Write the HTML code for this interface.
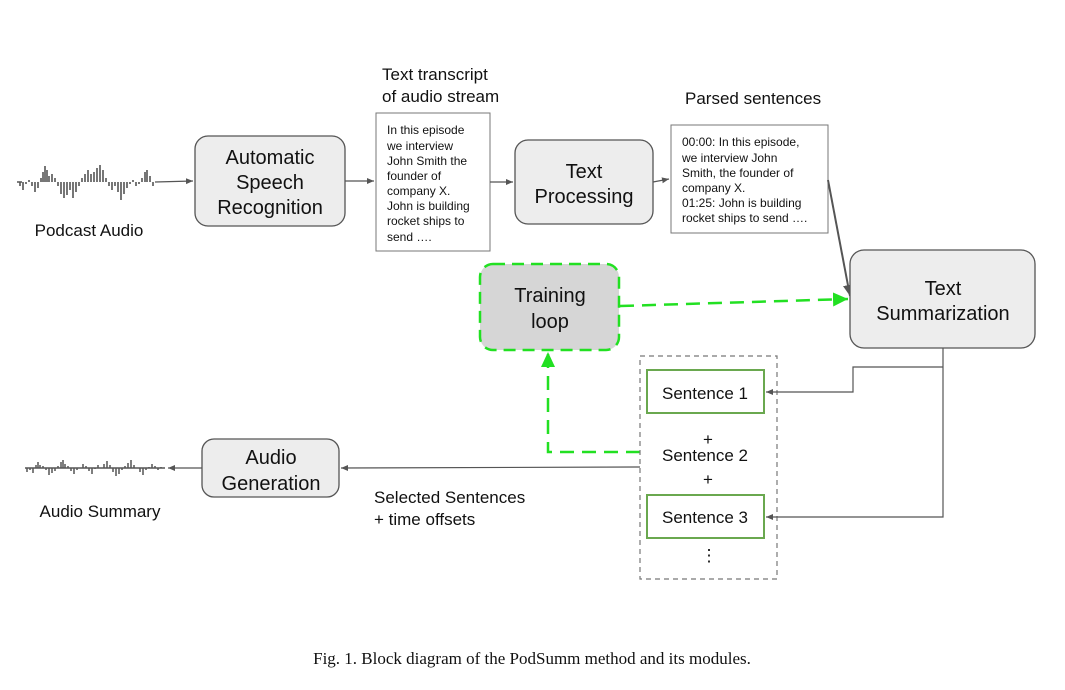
<!DOCTYPE html>
<html><head><meta charset="utf-8"><style>
html,body{margin:0;padding:0;background:#fff;}
svg{display:block;}
text{font-family:"Liberation Sans",Arial,sans-serif;fill:#111;}
</style></head><body>
<svg width="1065" height="690" viewBox="0 0 1065 690" xmlns="http://www.w3.org/2000/svg">
<defs>
<marker id="a" markerWidth="8" markerHeight="8" refX="7" refY="4" orient="auto" markerUnits="userSpaceOnUse"><path d="M0,1 L7,4 L0,7 z" fill="#555"/></marker>
<marker id="g" markerWidth="16" markerHeight="14" refX="15" refY="7" orient="auto" markerUnits="userSpaceOnUse"><path d="M0,0 L15,7 L0,14 z" fill="#22e022"/></marker>
<marker id="b" markerWidth="12" markerHeight="12" refX="11" refY="6" orient="auto" markerUnits="userSpaceOnUse"><path d="M0,1 L11,6 L0,11 z" fill="#555"/></marker>
</defs>

<!-- podcast waveform -->
<g stroke="#555" stroke-width="1.6">
<path d="M17 182H22 M20 182V186 M23 182V190 M26 182V184 M29 182V180 M32 182V186 M35 182V192 M38 182V188 M41 182V178 M43 182V172 M45 182V166 M47 182V170 M49 182V176 M52 182V174 M55 182V178 M58 182V186 M61 182V194 M64 182V198 M67 182V195 M70 182V190 M73 182V198 M76 182V192 M79 182V186 M82 182V178 M85 182V174 M88 182V170 M91 182V174 M94 182V172 M97 182V168 M100 182V165 M103 182V170 M106 182V178 M109 182V186 M112 182V190 M115 182V186 M118 182V192 M121 182V200 M124 182V194 M127 182V188 M130 182V184 M133 182V180 M136 182V186 M139 182V184 M142 182V178 M145 182V172 M147 182V170 M150 182V176 M153 182V186"/>
</g>
<line x1="155" y1="182" x2="193" y2="181" stroke="#555" stroke-width="1.2" marker-end="url(#a)"/>
<text x="89" y="236" font-size="17" text-anchor="middle">Podcast Audio</text>

<!-- ASR -->
<rect x="195" y="136" width="150" height="90" rx="13" fill="#ededed" stroke="#555" stroke-width="1.3"/>
<text font-size="20" text-anchor="middle"><tspan x="270" y="164">Automatic</tspan><tspan x="270" y="189">Speech</tspan><tspan x="270" y="214">Recognition</tspan></text>
<line x1="345" y1="181" x2="374" y2="181" stroke="#555" stroke-width="1.2" marker-end="url(#a)"/>

<!-- transcript -->
<text font-size="17"><tspan x="382" y="80">Text transcript</tspan><tspan x="382" y="102">of audio stream</tspan></text>
<rect x="376" y="113" width="114" height="138" fill="#fff" stroke="#777" stroke-width="1"/>
<text font-size="12"><tspan x="387" y="134">In this episode</tspan><tspan x="387" y="150">we interview</tspan><tspan x="387" y="165">John Smith the</tspan><tspan x="387" y="180">founder of</tspan><tspan x="387" y="195">company X.</tspan><tspan x="387" y="210">John is building</tspan><tspan x="387" y="225">rocket ships to</tspan><tspan x="387" y="241">send ….</tspan></text>
<line x1="490" y1="182" x2="513" y2="182" stroke="#555" stroke-width="1.2" marker-end="url(#a)"/>

<!-- text processing -->
<rect x="515" y="140" width="138" height="84" rx="13" fill="#ededed" stroke="#555" stroke-width="1.3"/>
<text font-size="20" text-anchor="middle"><tspan x="584" y="178">Text</tspan><tspan x="584" y="203">Processing</tspan></text>
<line x1="653" y1="182" x2="669" y2="179" stroke="#555" stroke-width="1.2" marker-end="url(#a)"/>

<!-- parsed -->
<text x="685" y="104" font-size="17">Parsed sentences</text>
<rect x="671" y="125" width="157" height="108" fill="#fff" stroke="#777" stroke-width="1"/>
<text font-size="12"><tspan x="682" y="146">00:00: In this episode,</tspan><tspan x="682" y="162">we interview John</tspan><tspan x="682" y="177">Smith, the founder of</tspan><tspan x="682" y="192">company X.</tspan><tspan x="682" y="207">01:25: John is building</tspan><tspan x="682" y="222">rocket ships to send ….</tspan></text>
<line x1="828" y1="180" x2="850" y2="296" stroke="#555" stroke-width="2" marker-end="url(#b)"/>

<!-- text summarization -->
<rect x="850" y="250" width="185" height="98" rx="14" fill="#ededed" stroke="#555" stroke-width="1.3"/>
<text font-size="20" text-anchor="middle"><tspan x="943" y="295">Text</tspan><tspan x="943" y="320">Summarization</tspan></text>

<!-- training loop -->
<rect x="480" y="264" width="139" height="86" rx="13" fill="#d6d6d6" stroke="#22e022" stroke-width="2.5" stroke-dasharray="12,7"/>
<text font-size="20" text-anchor="middle"><tspan x="550" y="302">Training</tspan><tspan x="550" y="328">loop</tspan></text>
<line x1="620" y1="306" x2="848" y2="299" stroke="#22e022" stroke-width="2.5" stroke-dasharray="14,8" marker-end="url(#g)"/>
<polyline points="640,452 548,452 548,352" fill="none" stroke="#22e022" stroke-width="2.5" stroke-dasharray="14,8" marker-end="url(#g)"/>

<!-- container -->
<rect x="640" y="356" width="137" height="223" fill="none" stroke="#777" stroke-width="1.2" stroke-dasharray="5,4"/>
<rect x="647" y="370" width="117" height="43" fill="#fff" stroke="#6aa84f" stroke-width="2"/>
<text x="705" y="399" font-size="17" text-anchor="middle">Sentence 1</text>
<text x="708" y="445" font-size="17" text-anchor="middle">+</text>
<text x="705" y="461" font-size="17" text-anchor="middle">Sentence 2</text>
<text x="708" y="485" font-size="17" text-anchor="middle">+</text>
<rect x="647" y="495" width="117" height="43" fill="#fff" stroke="#6aa84f" stroke-width="2"/>
<text x="705" y="523" font-size="17" text-anchor="middle">Sentence 3</text>
<text x="709" y="561" font-size="17" text-anchor="middle">⋮</text>

<polyline points="943,348 943,517 766,517" fill="none" stroke="#555" stroke-width="1.2" marker-end="url(#a)"/>
<polyline points="943,367 853,367 853,392 766,392" fill="none" stroke="#555" stroke-width="1.2" marker-end="url(#a)"/>

<!-- audio gen -->
<line x1="640" y1="467" x2="341" y2="468" stroke="#555" stroke-width="1.2" marker-end="url(#a)"/>
<rect x="202" y="439" width="137" height="58" rx="12" fill="#ededed" stroke="#555" stroke-width="1.3"/>
<text font-size="20" text-anchor="middle"><tspan x="271" y="464">Audio</tspan><tspan x="271" y="490">Generation</tspan></text>
<text font-size="17"><tspan x="374" y="503">Selected Sentences</tspan><tspan x="374" y="525">+ time offsets</tspan></text>
<line x1="202" y1="468" x2="168" y2="468" stroke="#555" stroke-width="1.2" marker-end="url(#a)"/>

<g stroke="#555" stroke-width="1.5">
<path d="M25 468H165 M27 468V472 M30 468V470 M33 468V473 M36 468V465 M38 468V462 M40 468V465 M43 468V466 M46 468V470 M49 468V475 M52 468V473 M55 468V471 M58 468V466 M61 468V462 M63 468V460 M65 468V464 M68 468V466 M71 468V471 M74 468V474 M77 468V470 M80 468V468 M83 468V464 M86 468V466 M89 468V471 M92 468V474 M95 468V469 M98 468V465 M101 468V468 M104 468V464 M107 468V461 M110 468V465 M113 468V472 M116 468V476 M119 468V474 M122 468V470 M125 468V466 M128 468V463 M131 468V460 M134 468V465 M137 468V468 M140 468V472 M143 468V475 M146 468V470 M149 468V467 M152 468V464 M155 468V466 M158 468V470 M161 468V467"/>
</g>
<text x="100" y="517" font-size="17" text-anchor="middle">Audio Summary</text>

<text x="532" y="664" font-size="17" text-anchor="middle" style="font-family:'Liberation Serif',serif">Fig. 1.  Block diagram of the PodSumm method and its modules.</text>
</svg>
</body></html>
